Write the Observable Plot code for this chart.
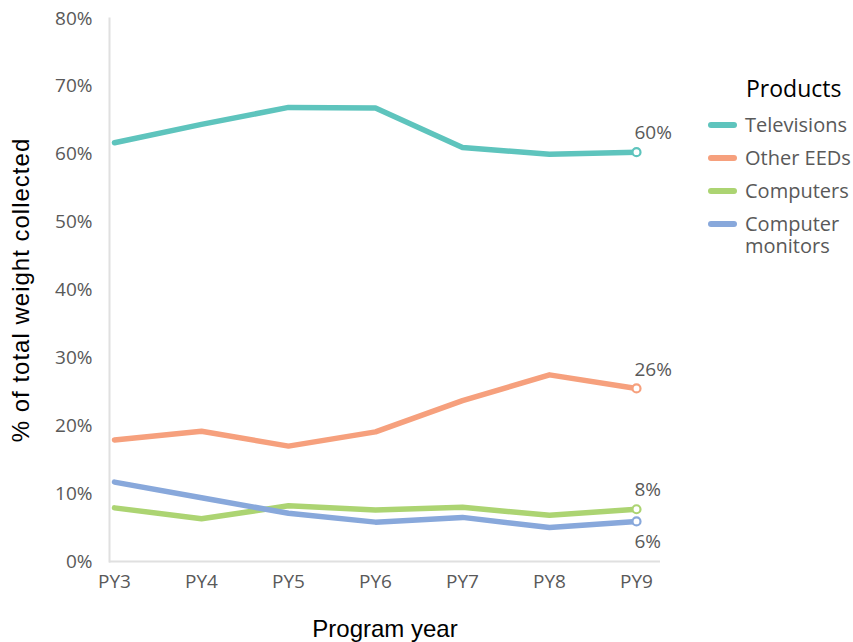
<!DOCTYPE html>
<html>
<head>
<meta charset="utf-8">
<script src="https://cdn.jsdelivr.net/npm/d3@7"></script>
<script src="https://cdn.jsdelivr.net/npm/@observablehq/plot@0.6"></script>
<style>
  html, body { margin: 0; padding: 0; background: #fff; }
  #wrap { position: relative; width: 853px; height: 642px; font-family: "Open Sans", sans-serif; }
  #legend { position: absolute; left: 706px; top: 73px; white-space: nowrap; }
  #legend .title { font-size: 23px; color: #000; margin-left: 40px; line-height: 30px; }
  #legend .item { display: flex; align-items: flex-start; font-size: 20px; color: #595959; line-height: 22px; margin-top: 11px; }
  #legend .item:first-of-type { margin-top: 2.5px; }
  #legend .sw { width: 29px; height: 6px; border-radius: 3px; margin: 8px 8px 0 2px; flex: none; }
  #legend .wrapme { white-space: normal; width: 100px; }
</style>
</head>
<body>
<div id="wrap"></div>
<script>
const years = ["PY3", "PY4", "PY5", "PY6", "PY7", "PY8", "PY9"];
const seriesNames = ["Televisions", "Other EEDs", "Computers", "Computer monitors"];
const seriesColors = ["#5ec4bd", "#f6a07d", "#acd472", "#88a8db"];
const televisions = [0.617, 0.644, 0.669, 0.668, 0.610, 0.600, 0.603];
const otherEEDs   = [0.179, 0.192, 0.170, 0.191, 0.237, 0.275, 0.255];
const computers   = [0.079, 0.063, 0.082, 0.076, 0.080, 0.068, 0.077];
const monitors    = [0.117, 0.094, 0.071, 0.058, 0.065, 0.050, 0.059];
const yTicks = [0, 0.1, 0.2, 0.3, 0.4, 0.5, 0.6, 0.7, 0.8];

const seriesValues = [televisions, otherEEDs, computers, monitors];
const data = seriesNames.flatMap((s, i) => years.map((y, j) => ({series: s, year: y, value: seriesValues[i][j]})));
const last = data.filter(d => d.year === years[years.length - 1]);

const titleFont = "'Liberation Sans', Arial, sans-serif";

const chart = Plot.plot({
  width: 853,
  height: 642,
  marginLeft: 109,
  marginRight: 193,
  marginTop: 18,
  marginBottom: 81,
  style: {fontFamily: "'Open Sans', sans-serif", background: "#fff"},
  x: {type: "point", domain: years, padding: 0, insetLeft: 4, insetRight: 24},
  y: {domain: [0, 0.8]},
  color: {domain: seriesNames, range: seriesColors},
  marks: [
    Plot.ruleY([0], {stroke: "#e0e0e0", strokeWidth: 2}),
    Plot.frame({anchor: "left", stroke: "#e0e0e0", strokeWidth: 2}),
    Plot.axisY({ticks: yTicks, tickFormat: d3.format(".0%"), tickSize: 0, tickPadding: 17, fontSize: 19, fill: "#595959", label: null}),
    Plot.axisY({ticks: [], label: "% of total weight collected", labelAnchor: "center", labelArrow: "none", labelOffset: 98, fontSize: 24, fontFamily: titleFont, fill: "#000"}),
    Plot.axisX({tickSize: 0, tickPadding: 13, fontSize: 19, fill: "#595959", label: null}),
    Plot.axisX({ticks: [], label: "Program year", labelAnchor: "center", labelArrow: "none", labelOffset: 75, fontSize: 24, fontFamily: titleFont, fill: "#000"}),
    Plot.line(data, {x: "year", y: "value", z: "series", stroke: "series", strokeWidth: 5.5, strokeLinecap: "round", strokeLinejoin: "round"}),
    Plot.dot(last, {x: "year", y: "value", stroke: "series", fill: "#fff", r: 4, strokeWidth: 2.2}),
    Plot.text(last.filter(d => d.series !== "Computer monitors"), {x: "year", y: "value", text: d => d3.format(".0%")(d.value), textAnchor: "start", dx: -2, dy: -19, fontSize: 19, fill: "#595959"}),
    Plot.text(last.filter(d => d.series === "Computer monitors"), {x: "year", y: "value", text: d => d3.format(".0%")(d.value), textAnchor: "start", dx: -2, dy: 20, fontSize: 19, fill: "#595959"})
  ]
});

d3.select(chart).selectAll('g[aria-label="y-axis label"] text').style("letter-spacing", "1px");

const wrap = document.getElementById("wrap");
wrap.appendChild(chart);

const legend = document.createElement("div");
legend.id = "legend";
const t = document.createElement("div");
t.className = "title";
t.textContent = "Products";
legend.appendChild(t);
seriesNames.forEach((s, i) => {
  const it = document.createElement("div");
  it.className = "item";
  const sw = document.createElement("div");
  sw.className = "sw";
  sw.style.background = seriesColors[i];
  const lab = document.createElement("div");
  lab.textContent = s;
  if (s === "Computer monitors") lab.className = "wrapme";
  it.appendChild(sw);
  it.appendChild(lab);
  legend.appendChild(it);
});
wrap.appendChild(legend);
</script>
</body>
</html>
